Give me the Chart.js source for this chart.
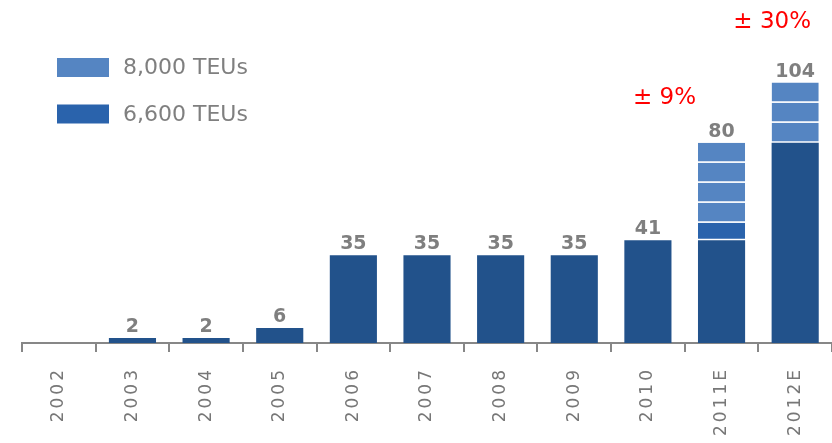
<!DOCTYPE html>
<html><head><meta charset="utf-8">
<script src="https://cdn.jsdelivr.net/npm/chart.js@4.4.0/dist/chart.umd.min.js"></script>
<style>html,body{margin:0;padding:0;background:#fff;overflow:hidden;}</style>
</head><body>
<canvas id="c" width="832" height="443"></canvas>
<script>
// ---- data ----
const years = ['2002','2003','2004','2005','2006','2007','2008','2009','2010','2011E','2012E'];
const baseFleet = [null, 2, 2, 6, 35, 35, 35, 35, 41, 41, 80];
const new6600   = [null, null, null, null, null, null, null, null, null, 7, null];
const new8000a  = [null, null, null, null, null, null, null, null, null, 8, 8];
const new8000b  = [null, null, null, null, null, null, null, null, null, 8, 8];
const new8000c  = [null, null, null, null, null, null, null, null, null, 8, 8];
const new8000d  = [null, null, null, null, null, null, null, null, null, 8, null];
const totals    = [null, 2, 2, 6, 35, 35, 35, 35, 41, 80, 104];
const growthNotes = ['± 9%', '± 30%'];
const legendLabels = ['8,000 TEUs', '6,600 TEUs'];

// ---- styles ----
const DARK = '#22528B', MID = '#2A63AC', LIGHT = '#5585C2';
const GREY = '#7f7f7f';

function seg(data, color, label) {
  return {
    label, data, backgroundColor: color,
    borderColor: '#ffffff', borderSkipped: false,
    borderWidth: {top: 0, left: 0, right: 0, bottom: 1.5},
    barPercentage: 0.64, categoryPercentage: 1.0
  };
}

const datasets = [
  {label: 'fleet', data: baseFleet, backgroundColor: DARK, borderWidth: 0,
   barPercentage: 0.64, categoryPercentage: 1.0},
  seg(new6600, MID, '6,600 TEUs'),
  seg(new8000a, LIGHT, '8,000 TEUs'),
  seg(new8000b, LIGHT, '8,000 TEUs'),
  seg(new8000c, LIGHT, '8,000 TEUs'),
  seg(new8000d, LIGHT, '8,000 TEUs')
];

const spacingPlugin = {
  id: 'spacing',
  beforeDraw(chart) { chart.ctx.letterSpacing = '3px'; },
  beforeDatasetsDraw(chart) { chart.ctx.letterSpacing = '0px'; }
};

const overlayPlugin = {
  id: 'overlay',
  afterDatasetsDraw(chart) {
    const ctx = chart.ctx, xs = chart.scales.x, ys = chart.scales.y;
    ctx.save();
    ctx.letterSpacing = '0px';
    // totals
    ctx.fillStyle = GREY;
    ctx.font = 'bold 19px "DejaVu Sans"';
    ctx.textAlign = 'center';
    ctx.textBaseline = 'alphabetic';
    totals.forEach((v, i) => {
      if (v == null) return;
      ctx.fillText(String(v), xs.getPixelForValue(i), ys.getPixelForValue(v) - 6);
    });
    // growth notes
    ctx.fillStyle = '#ff0000';
    ctx.font = '23px "DejaVu Sans"';
    ctx.textBaseline = 'middle';
    ctx.fillText(growthNotes[0], xs.getPixelForValue(9) - 57, ys.getPixelForValue(totals[9]) - 45);
    ctx.fillText(growthNotes[1], xs.getPixelForValue(10) - 23, ys.getPixelForValue(totals[10]) - 61);
    // legend
    const rows = [{t: legendLabels[0], c: LIGHT, y: 67.5}, {t: legendLabels[1], c: MID, y: 114}];
    ctx.font = '22px "DejaVu Sans"';
    ctx.textAlign = 'left';
    rows.forEach(r => {
      ctx.fillStyle = r.c;
      ctx.fillRect(57, r.y - 9.5, 52, 19);
      ctx.fillStyle = GREY;
      ctx.fillText(r.t, 123, r.y + 1);
    });
    ctx.restore();
  }
};

new Chart(document.getElementById('c'), {
  type: 'bar',
  data: {labels: years, datasets},
  plugins: [spacingPlugin, overlayPlugin],
  options: {
    responsive: false, animation: false, devicePixelRatio: 1,
    layout: {padding: {left: 22, right: -4, top: 0, bottom: 0}},
    plugins: {legend: {display: false}, tooltip: {enabled: false}},
    scales: {
      x: {
        stacked: true,
        afterFit(scale) { scale.height = 100; },
        grid: {offset: true, drawOnChartArea: false, drawTicks: true, tickLength: 9,
               color: '#878787', lineWidth: 2},
        border: {display: true, color: '#878787', width: 2},
        ticks: {color: '#777777', font: {family: 'DejaVu Sans', size: 17},
                minRotation: 90, maxRotation: 90, autoSkip: false, padding: 15}
      },
      y: {stacked: true, display: false, min: 0, max: 137}
    }
  }
});
</script>
</body></html>
